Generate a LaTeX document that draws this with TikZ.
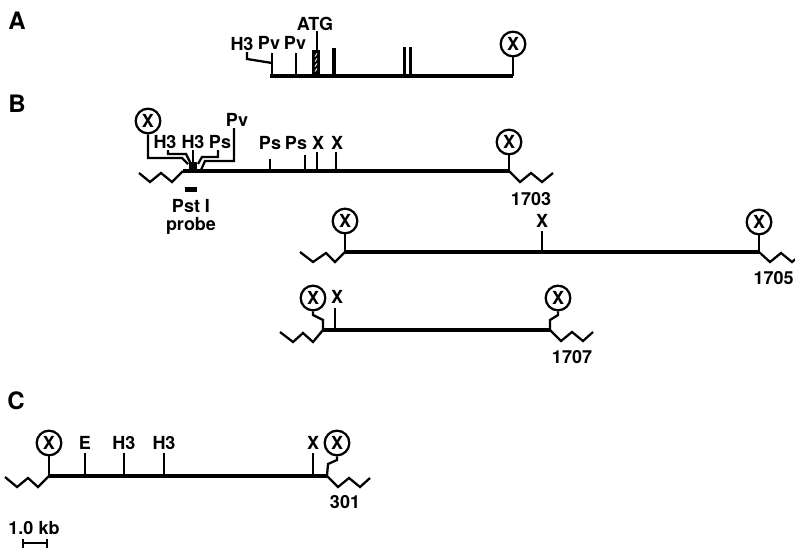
\documentclass[tikz,border=0pt]{standalone}
\usepackage{fontspec}
\setmainfont{TeX Gyre Heros}
\begin{document}
\begin{tikzpicture}[x=0.75pt,y=-0.75pt,
  lbl/.style={font=\bfseries\fontsize{13.5}{14}\selectfont, inner sep=0pt},
  panel/.style={font=\bfseries\fontsize{18}{20}\selectfont, inner sep=0pt},
  mainline/.style={line width=2.5pt},
  tickline/.style={line width=1.7pt, line join=miter},
  xsite/.style={circle, draw, line width=1.7pt, minimum size=18.5pt, inner sep=0pt, font=\bfseries\fontsize{13.5}{14}\selectfont},
  zig/.style={line width=1.7pt, line join=miter}
]
\useasboundingbox (0,0) rectangle (795,554);

% ---------------- Panel A ----------------
\node[panel] (pA) at (17,21) {A};
\coordinate (a0) at (270,76);
\coordinate (a1) at (513,76);
\draw[mainline] (a0) -- (a1);
\node[xsite] (aX) at (513,44) {X};
\draw[tickline] (aX) -- (a1);
\node[lbl] (aH3) at (242,44) {H3};
\draw[tickline] (247,52) -- (247,59) -- (272,63);
\node[lbl] (aPv1) at (269,43) {Pv};
\draw[tickline] (272,53) -- (272,76);
\node[lbl] (aPv2) at (295,43) {Pv};
\draw[tickline] (296,53) -- (296,76);
\node[lbl] (aATG) at (315,24) {ATG};
\draw[line width=1pt] (aATG.south -| 317,0) -- (317,50);
\fill (312,50) rectangle (320,76);
\foreach \yy in {55,60,65,70}{
  \draw[white, line width=0.7pt] (315,\yy+1.5) -- (317,\yy-1.5);
}
\fill (331.5,48) rectangle (335.5,76);
\fill (402.5,47) rectangle (405.5,76);
\fill (408.5,47) rectangle (411.5,76);

% ---------------- Panel B ----------------
\node[panel] (pB) at (17,104) {B};
% clone 1703
\coordinate (b1L) at (183,171);
\coordinate (b1R) at (509,171);
\draw[mainline] (b1L) -- (b1R);
\draw[zig] (b1L) -- (172,182) -- (161,173) -- (150,182) -- (139,173);
\draw[zig] (b1R) -- (520,182) -- (531,173) -- (542,182) -- (553,173);
\node[xsite] (b1Xr) at (509,142) {X};
\draw[tickline] (b1Xr) -- (b1R);
\node[lbl] (n1703) at (531,199) {1703};
\node[xsite] (b1Xl) at (148,121) {X};
\draw[tickline] (b1Xl) -- (148,158) -- (182,158) -- (188,164);
\node[lbl] (b1h3a) at (165,142) {H3};
\draw[tickline] (168,150) -- (168,154) -- (186,154) -- (190,162);
\node[lbl] (b1h3b) at (193,142) {H3};
\draw[tickline] (193,150) -- (193,163);
\node[lbl] (b1ps0) at (220,142) {Ps};
\draw[tickline] (218,150) -- (218,157) -- (202,157) -- (198,164);
\node[lbl] (b1pv) at (237,120) {Pv};
\draw[tickline] (234,128) -- (234,161) -- (205,161) -- (201,170);
\fill (189,162) rectangle (197,172);
\fill (185,187) rectangle (197,192);
\node[lbl, align=center] (probe) at (191,217) {Pst I\\[-1pt]probe};
\node[lbl] (b1ps1) at (270,143) {Ps};
\draw[tickline] (270,159) -- (270,171);
\node[lbl] (b1ps2) at (296,143) {Ps};
\draw[tickline] (305,155) -- (305,171);
\node[lbl] (b1x1) at (318,143) {X};
\draw[tickline] (317,152) -- (317,171);
\node[lbl] (b1x2) at (337,143) {X};
\draw[tickline] (336,152) -- (336,171);

% clone 1705
\coordinate (b2L) at (345,252);
\coordinate (b2R) at (759,252);
\draw[mainline] (b2L) -- (b2R);
\draw[zig] (b2L) -- (335,262) -- (326,253) -- (313,262) -- (300,252);
\draw[zig] (b2R) -- (770,262) -- (781,253) -- (792,262) -- (803,253);
\node[xsite] (b2Xl) at (345,221) {X};
\draw[tickline] (b2Xl) -- (b2L);
\node[xsite] (b2Xr) at (759,222) {X};
\draw[tickline] (b2Xr) -- (b2R);
\node[lbl] (b2x) at (542,221) {X};
\draw[tickline] (542,231) -- (542,252);
\node[lbl, anchor=east] (n1705) at (794,278) {1705};

% clone 1707
\coordinate (b3L) at (323,330);
\coordinate (b3R) at (550,330);
\draw[mainline] (b3L) -- (b3R);
\draw[zig] (b3L) -- (313,342) -- (303,333) -- (293,342) -- (280,332);
\draw[zig] (b3R) -- (561,341) -- (572,332) -- (583,341) -- (593,332);
\node[xsite] (b3Xl) at (313,298) {X};
\draw[tickline] (b3Xl) -- (313,315) -- (323,320) -- (b3L);
\node[xsite] (b3Xr) at (558,298) {X};
\draw[tickline] (b3Xr) -- (558,315) -- (550,320) -- (b3R);
\node[lbl] (b3x) at (337,297) {X};
\draw[tickline] (335,308) -- (335,330);
\node[lbl] (n1707) at (572,357) {1707};

% ---------------- Panel C ----------------
\node[panel] (pC) at (16,401) {C};
\coordinate (cL) at (49,476);
\coordinate (cR) at (327,476);
\draw[mainline] (cL) -- (cR);
\draw[zig] (cL) -- (38,487) -- (28,478) -- (17,487) -- (5,477);
\draw[zig] (cR) -- (338,487) -- (349,478) -- (360,487) -- (370,478);
\node[xsite] (cXl) at (49,443) {X};
\draw[tickline] (cXl) -- (cL);
\node[xsite] (cXr) at (337,443) {X};
\draw[tickline] (cXr) -- (337,460) -- (328,464) -- (cR);
\node[lbl] (cE) at (85,443) {E};
\draw[tickline] (85,453) -- (85,476);
\node[lbl] (cH3a) at (124,443) {H3};
\draw[tickline] (124,453) -- (124,476);
\node[lbl] (cH3b) at (164,443) {H3};
\draw[tickline] (164,453) -- (164,476);
\node[lbl] (cX) at (313,443) {X};
\draw[tickline] (313,453) -- (313,476);
\node[lbl] (n301) at (345,502) {301};

% scale bar
\node[lbl] (kb) at (34,528) {1.0 kb};
\coordinate (s0) at (23,543);
\coordinate (s1) at (47,543);
\draw[tickline] (s0) -- (s1);
\draw[tickline] (23,539) -- (23,548);
\draw[tickline] (47,539) -- (47,548);
\end{tikzpicture}
\end{document}
